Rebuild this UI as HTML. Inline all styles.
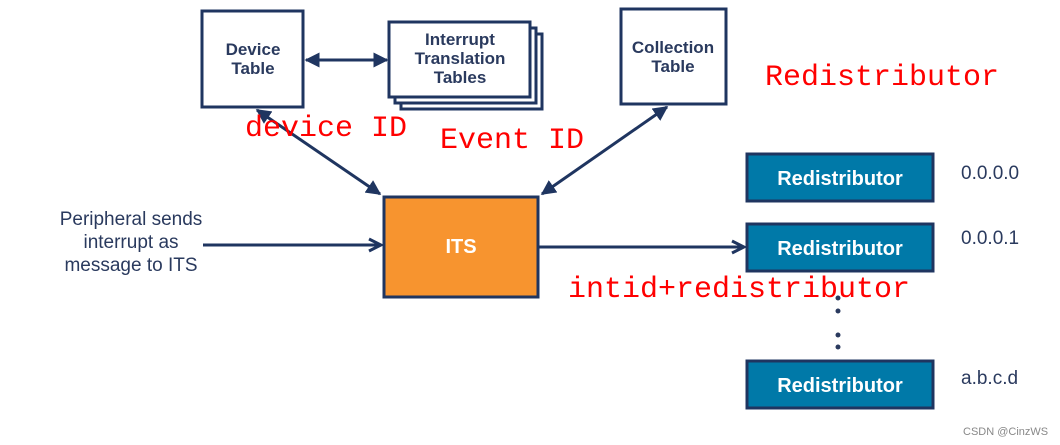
<!DOCTYPE html>
<html><head><style>
html,body{margin:0;padding:0;background:#fff;}
svg{display:block;}
.b{font-family:"Liberation Sans",sans-serif;font-weight:bold;fill:#2a3a5e;text-anchor:middle;}
.r{font-family:"Liberation Mono",monospace;fill:#ff0000;font-size:30px;}
.n{font-family:"Liberation Sans",sans-serif;fill:#2a3a5e;font-size:19px;}
.w{font-family:"Liberation Sans",sans-serif;font-weight:bold;fill:#fff;text-anchor:middle;font-size:20px;}
</style></head><body>
<svg width="1060" height="445" viewBox="0 0 1060 445" xmlns="http://www.w3.org/2000/svg">
<defs>
<marker id="a" viewBox="0 0 10 10" refX="9" refY="5" markerWidth="5" markerHeight="5" orient="auto-start-reverse">
<path d="M0,0 L10,5 L0,10 z" fill="#1f3560"/>
</marker>
<marker id="o" viewBox="0 0 10 10" refX="9" refY="5" markerWidth="5" markerHeight="5" orient="auto">
<path d="M1,1 L9,5 L1,9" fill="none" stroke="#1f3560" stroke-width="2"/>
</marker>
</defs>
<g fill="#fff" stroke="#1f3560" stroke-width="3">
<rect x="202" y="11" width="101" height="96"/>
<rect x="401" y="34" width="141" height="75"/>
<rect x="395" y="28" width="141" height="75"/>
<rect x="389" y="22" width="141" height="75"/>
<rect x="621" y="9" width="105" height="95"/>
</g>
<text class="b" font-size="17"><tspan x="253" y="55">Device</tspan><tspan x="253" y="74">Table</tspan></text>
<text class="b" font-size="17"><tspan x="460" y="45">Interrupt</tspan><tspan x="460" y="64">Translation</tspan><tspan x="460" y="83">Tables</tspan></text>
<text class="b" font-size="17"><tspan x="673" y="53">Collection</tspan><tspan x="673" y="72">Table</tspan></text>
<g stroke="#1f3560" stroke-width="3" fill="none">
<line x1="306" y1="60" x2="387" y2="60" marker-start="url(#a)" marker-end="url(#a)"/>
<line x1="257" y1="110" x2="380" y2="194" marker-start="url(#a)" marker-end="url(#a)"/>
<line x1="667" y1="107" x2="542" y2="194" marker-start="url(#a)" marker-end="url(#a)"/>
<line x1="203" y1="245" x2="381" y2="245" marker-end="url(#o)"/>
<line x1="539" y1="247" x2="744" y2="247" marker-end="url(#o)"/>
</g>
<rect x="384" y="197" width="154" height="100" fill="#f7942f" stroke="#1f3560" stroke-width="3"/>
<text class="w" x="461" y="253" font-size="22">ITS</text>
<text class="n" text-anchor="middle"><tspan x="131" y="225">Peripheral sends</tspan><tspan x="131" y="248">interrupt as</tspan><tspan x="131" y="271">message to ITS</tspan></text>
<g fill="#0079a8" stroke="#1f3560" stroke-width="3">
<rect x="747" y="154" width="186" height="47"/>
<rect x="747" y="224" width="186" height="47"/>
<rect x="747" y="361" width="186" height="47"/>
</g>
<text class="w" x="840" y="185">Redistributor</text>
<text class="w" x="840" y="255">Redistributor</text>
<text class="w" x="840" y="392">Redistributor</text>
<text class="n" x="961" y="179">0.0.0.0</text>
<text class="n" x="961" y="244">0.0.0.1</text>
<text class="n" x="961" y="384">a.b.c.d</text>
<g fill="#2a3a5e"><circle cx="838" cy="298" r="2.5"/><circle cx="838" cy="311" r="2.5"/><circle cx="838" cy="335" r="2.5"/><circle cx="838" cy="347" r="2.5"/></g>
<text class="r" x="765" y="85">Redistributor</text>
<text class="r" x="245" y="136">device ID</text>
<text class="r" x="440" y="148">Event ID</text>
<text class="r" x="568" y="297">intid+redistributor</text>
<text x="963" y="435" font-family="Liberation Sans,sans-serif" font-size="11" fill="#888">CSDN @CinzWS</text>
</svg>
</body></html>
